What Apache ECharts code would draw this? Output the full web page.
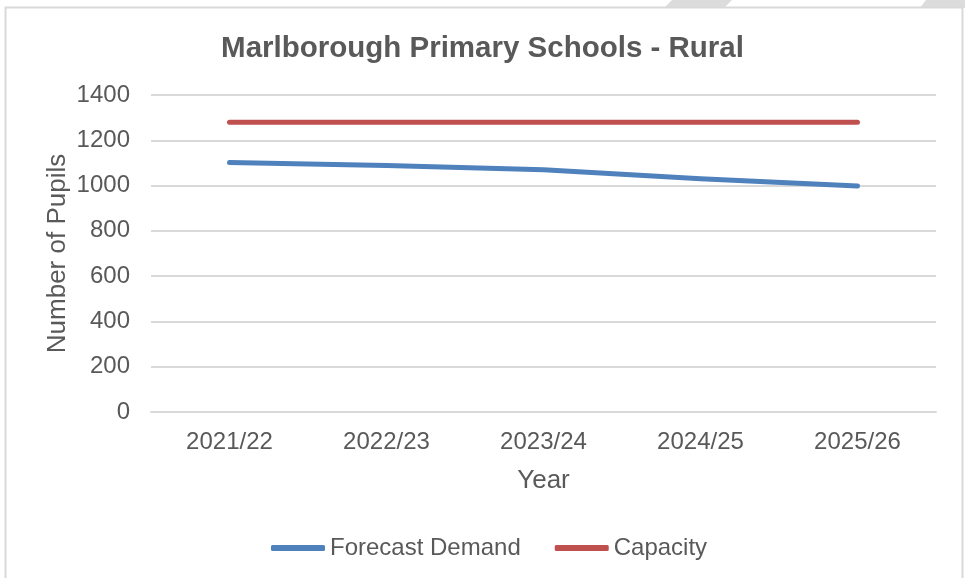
<!DOCTYPE html>
<html>
<head>
<meta charset="utf-8">
<script src="https://cdn.jsdelivr.net/npm/echarts@6/dist/echarts.min.js"></script>
<style>html,body{margin:0;padding:0;background:#fff}#c{width:965px;height:578px}</style>
</head>
<body>
<div id="c"></div>
<script>
const categories = ['2021/22', '2022/23', '2023/24', '2024/25', '2025/26'];
const forecastDemand = [1102, 1089, 1070, 1030, 998];
const capacity = [1280, 1280, 1280, 1280, 1280];
const yTicks = { min: 0, max: 1400, interval: 200 };

const txt = '#595959';
const font = 'Liberation Sans, Arial, sans-serif';
const chart = echarts.init(document.getElementById('c'), null, { renderer: 'canvas' });
chart.setOption({
  backgroundColor: '#fff',
  animation: false,
  title: {
    text: 'Marlborough Primary Schools - Rural',
    left: 'center', top: 29,
    textStyle: { color: txt, fontFamily: font, fontWeight: 'bold', fontSize: 29.5 }
  },
  graphic: [
    { type: 'rect', shape: { x: 5.5, y: 7.5, width: 957, height: 600 },
      style: { fill: 'none', stroke: '#d9d9d9', lineWidth: 2 }, silent: true, z: -1 },
    { type: 'polygon', shape: { points: [[664, 8], [672, 0], [732, 0], [724, 8]] },
      style: { fill: '#dcdcdc' }, silent: true, z: -2 },
    { type: 'polygon', shape: { points: [[920, 8], [926, 0], [965, 0], [965, 8]] },
      style: { fill: '#dcdcdc' }, silent: true, z: -2 }
  ],
  legend: {
    bottom: 13, left: 266,
    itemWidth: 54, itemHeight: 6, itemGap: 34,
    icon: 'roundRect',
    textStyle: { color: txt, fontFamily: font, fontSize: 24, padding: [0, 0, 0, 0] },
    data: [
      { name: 'Forecast Demand', itemStyle: { color: '#4F81BD' } },
      { name: 'Capacity', itemStyle: { color: '#C0504D' } }
    ]
  },
  grid: { left: 151, right: 29, top: 95, bottom: 166, containLabel: false },
  xAxis: {
    type: 'category', data: categories, boundaryGap: true,
    name: 'Year', nameLocation: 'middle', nameGap: 56, nameMoveOverlap: false,
    nameTextStyle: { color: txt, fontFamily: font, fontSize: 26 },
    axisLine: { lineStyle: { color: '#d9d9d9', width: 2 } },
    axisTick: { show: false },
    axisLabel: { color: txt, fontFamily: font, fontSize: 24, margin: 18 }
  },
  yAxis: {
    type: 'value', min: yTicks.min, max: yTicks.max, interval: yTicks.interval,
    name: 'Number of Pupils', nameLocation: 'middle', nameGap: 80, nameMoveOverlap: false,
    nameTextStyle: { color: txt, fontFamily: font, fontSize: 26 },
    axisLine: { show: false }, axisTick: { show: false },
    splitLine: { lineStyle: { color: '#d9d9d9', width: 2 } },
    axisLabel: { color: txt, fontFamily: font, fontSize: 24, margin: 21, formatter: v => String(v) }
  },
  series: [
    { name: 'Forecast Demand', type: 'line', data: forecastDemand, showSymbol: false, symbol: 'none',
      lineStyle: { color: '#4F81BD', width: 5, cap: 'round', join: 'round' }, itemStyle: { color: '#4F81BD' } },
    { name: 'Capacity', type: 'line', data: capacity, showSymbol: false, symbol: 'none',
      lineStyle: { color: '#C0504D', width: 5, cap: 'round', join: 'round' }, itemStyle: { color: '#C0504D' } }
  ]
});
</script>
</body>
</html>
